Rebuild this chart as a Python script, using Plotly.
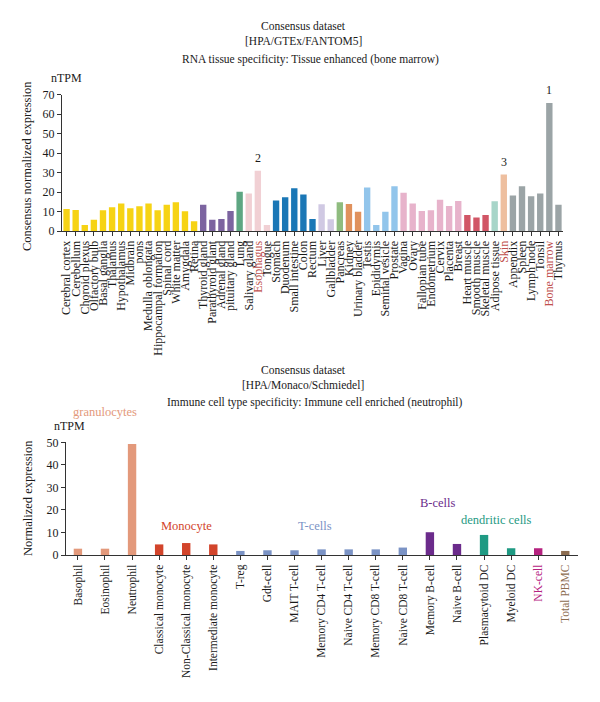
import plotly.graph_objects as go

# ---------------- Top chart data ----------------
tissues = ["Cerebral cortex", "Cerebellum", "Choroid plexus", "Olfactory bulb", "Basal ganglia",
           "Thalamus", "Hypothalamus", "Midbrain", "pons", "Medulla oblongata",
           "Hippocampal formation", "Spinal cord", "White matter", "Amygdala", "Retina",
           "Thyroid gland", "Parathyroid glant", "Adrenal gland", "pituitary gland",
           "Lung", "Salivary gland", "Esophagus", "Tongue",
           "Stomach", "Duodenum", "Small intestine", "Colon", "Rectum",
           "Liver", "Gallbladder", "Pancreas", "Kidney", "Urinary bladder",
           "Testis", "Epididymis", "Seminal vesicle", "Prostate",
           "Vagina", "Ovary", "Fallopian tube", "Endometrium", "Cervix", "Placenta", "Breast",
           "Heart muscle", "Smooth muscle", "Skeletal muscle", "Adipose tissue", "Skin",
           "Appendix", "Spleen", "Lymph node", "Tonsil", "Bone marrow", "Thymus"]
tissue_values = [11.3, 10.8, 3.1, 5.8, 10.6, 12.2, 14.1, 11.7, 12.7, 14.1,
                 10.6, 13.5, 14.8, 10.1, 5.0,
                 13.5, 5.8, 6.2, 10.3,
                 20.2, 19.2, 31.0, 3.1,
                 15.6, 17.3, 22.0, 18.7, 6.2,
                 13.7, 6.0, 14.8, 13.9, 9.9,
                 22.3, 3.1, 9.9, 23.0,
                 19.6, 14.1, 10.3, 10.6, 16.0, 12.9, 15.4,
                 8.2, 6.9, 8.2, 15.3, 29.0,
                 18.2, 23.0, 17.8, 19.2, 65.7, 13.5]
tissue_groups = (["brain"] * 15 + ["endocrine"] * 4 + ["lung"] + ["proximal"] * 3 +
                 ["gi"] * 5 + ["liver"] * 2 + ["pancreas"] + ["kidney"] * 2 +
                 ["male"] * 4 + ["female"] * 7 + ["muscle"] * 3 + ["adipose"] + ["skin"] +
                 ["lymphoid"] * 6)
group_colors = {"brain": "#f6d314", "endocrine": "#7c64a0", "lung": "#5ea682",
                "proximal": "#f1d0d4", "gi": "#1a77b6", "liver": "#d0c9e3",
                "pancreas": "#8fbc7f", "kidney": "#e0915c", "male": "#92c5eb",
                "female": "#e7b3cb", "muscle": "#d15666", "adipose": "#a7d5c9",
                "skin": "#eebf9f", "lymphoid": "#9ba4a6"}
highlight_tissues = {"Esophagus": "2", "Skin": "3", "Bone marrow": "1"}

# ---------------- Bottom chart data ----------------
cells = ["Basophil", "Eosinophil", "Neutrophil", "Classical monocyte", "Non-Classical monocyte",
         "Intermediate monocyte", "T-reg", "Gdt-cell", "MAIT T-cell", "Memory CD4 T-cell",
         "Naive CD4 T-cell", "Memory CD8 T-cell", "Naive CD8 T-cell", "Memory B-cell",
         "Naive B-cell", "Plasmacytoid DC", "Myeloid DC", "NK-cell", "Total PBMC"]
cell_values = [2.8, 2.8, 49.2, 4.7, 5.3, 4.7, 1.8, 2.1, 2.1, 2.5, 2.5, 2.5, 3.3,
               10.1, 4.9, 8.9, 3.0, 3.0, 1.8]
cell_groups = ["gran"] * 3 + ["mono"] * 3 + ["t"] * 7 + ["b"] * 2 + ["dc"] * 2 + ["nk"] + ["pbmc"]
cell_colors = {"gran": "#e3997b", "mono": "#d2442b", "t": "#7b93c5", "b": "#6b2b8b",
               "dc": "#1f9a83", "nk": "#b5227f", "pbmc": "#8c6c50"}
group_labels = [("granulocytes", "gran", 1, 412), ("Monocyte", "mono", 4, 526),
                ("T-cells", "t", 8.75, 526), ("B-cells", "b", 13.3, 503),
                ("dendritic cells", "dc", 15.45, 520)]

FONT = "Liberation Serif"
TXT = "#1a1a1a"
HL = "#c0504d"

fig = go.Figure()

fig.add_trace(go.Bar(
    x=list(range(len(tissues))), y=tissue_values,
    marker=dict(color=[group_colors[g] for g in tissue_groups], line=dict(width=0)),
    width=0.7, xaxis="x", yaxis="y", showlegend=False, hoverinfo="skip"))

fig.add_trace(go.Bar(
    x=list(range(len(cells))), y=cell_values,
    marker=dict(color=[cell_colors[g] for g in cell_groups], line=dict(width=0)),
    width=0.31, xaxis="x2", yaxis="y2", showlegend=False, hoverinfo="skip"))

def tick_text(name, colormap):
    if name in colormap:
        return f"<span style='color:{colormap[name]}'>{name}</span>"
    return name

top_ticktext = [tick_text(t, {k: HL for k in highlight_tissues}) for t in tissues]
bot_ticktext = [tick_text(c, {"NK-cell": cell_colors["nk"], "Total PBMC": cell_colors["pbmc"]})
                for c in cells]

axis_common = dict(showgrid=False, zeroline=False, showline=True, linecolor="#333",
                   linewidth=1, ticks="outside", ticklen=4, tickcolor="#333",
                   automargin=False,
                   tickfont=dict(family=FONT, size=12, color=TXT))

fig.update_layout(
    width=600, height=702, margin=dict(l=0, r=0, t=0, b=0, autoexpand=False),
    paper_bgcolor="white", plot_bgcolor="white",
    font=dict(family=FONT, color=TXT),
    xaxis=dict(domain=[62 / 600, 563 / 600], anchor="y", range=[-0.5, len(tissues) - 0.5],
               tickmode="array", tickvals=list(range(len(tissues))), ticktext=top_ticktext,
               tickangle=-90, **{**axis_common, "tickfont": dict(family=FONT, size=12, color=TXT)}),
    yaxis=dict(domain=[1 - 231 / 702, 1 - 94.7 / 702], anchor="x", range=[0, 70],
               tickvals=[0, 10, 20, 30, 40, 50, 60, 70], **axis_common),
    xaxis2=dict(domain=[66 / 600, 578 / 600], anchor="y2", range=[-0.44, len(cells) - 0.53],
                tickmode="array", tickvals=list(range(len(cells))), ticktext=bot_ticktext,
                tickangle=-90, **{**axis_common, "tickfont": dict(family=FONT, size=11.5, color=TXT)}),
    yaxis2=dict(domain=[1 - 555 / 702, 1 - 442.3 / 702], anchor="x2", range=[0, 50],
                tickvals=[0, 10, 20, 30, 40, 50], **axis_common),
    bargap=0.3,
)

def paper_text(text, x_px, y_px, size=11.5, color=TXT, angle=0):
    fig.add_annotation(text=text, xref="paper", yref="paper", x=x_px / 600, y=1 - y_px / 702,
                       xanchor="center", yanchor="middle", showarrow=False, textangle=angle,
                       font=dict(family=FONT, size=size, color=color))

# top titles
paper_text("Consensus dataset", 303, 26)
paper_text("[HPA/GTEx/FANTOM5]", 303, 41)
paper_text("RNA tissue specificity: Tissue enhanced (bone marrow)", 310, 59)
paper_text("nTPM", 66, 78, size=12)
paper_text("Consensus normalized expression", 27, 166, size=12.5, angle=-90)
# bottom titles
paper_text("Consensus dataset", 303, 370)
paper_text("[HPA/Monaco/Schmiedel]", 303, 385)
paper_text("Immune cell type specificity: Immune cell enriched (neutrophil)", 315, 402)
paper_text("nTPM", 69, 426, size=12)
paper_text("Normalized expression", 28, 498, size=12.5, angle=-90)

# rank numbers above highlighted tissues
for name, rank in highlight_tissues.items():
    i = tissues.index(name)
    fig.add_annotation(text=rank, x=i, y=tissue_values[i], xref="x", yref="y",
                       yanchor="bottom", yshift=4, showarrow=False,
                       font=dict(family=FONT, size=12, color=TXT))

# group labels in immune chart
for text, g, xpos, ypx in group_labels:
    fig.add_annotation(text=text, x=xpos, y=1 - ypx / 702, xref="x2", yref="paper",
                       xanchor="center", yanchor="middle", showarrow=False,
                       font=dict(family=FONT, size=12.5, color=cell_colors[g]))

fig.write_html("out.html", config={"displayModeBar": False},
               post_script="document.body.style.margin='0px';window.dispatchEvent(new Event('resize'));")
